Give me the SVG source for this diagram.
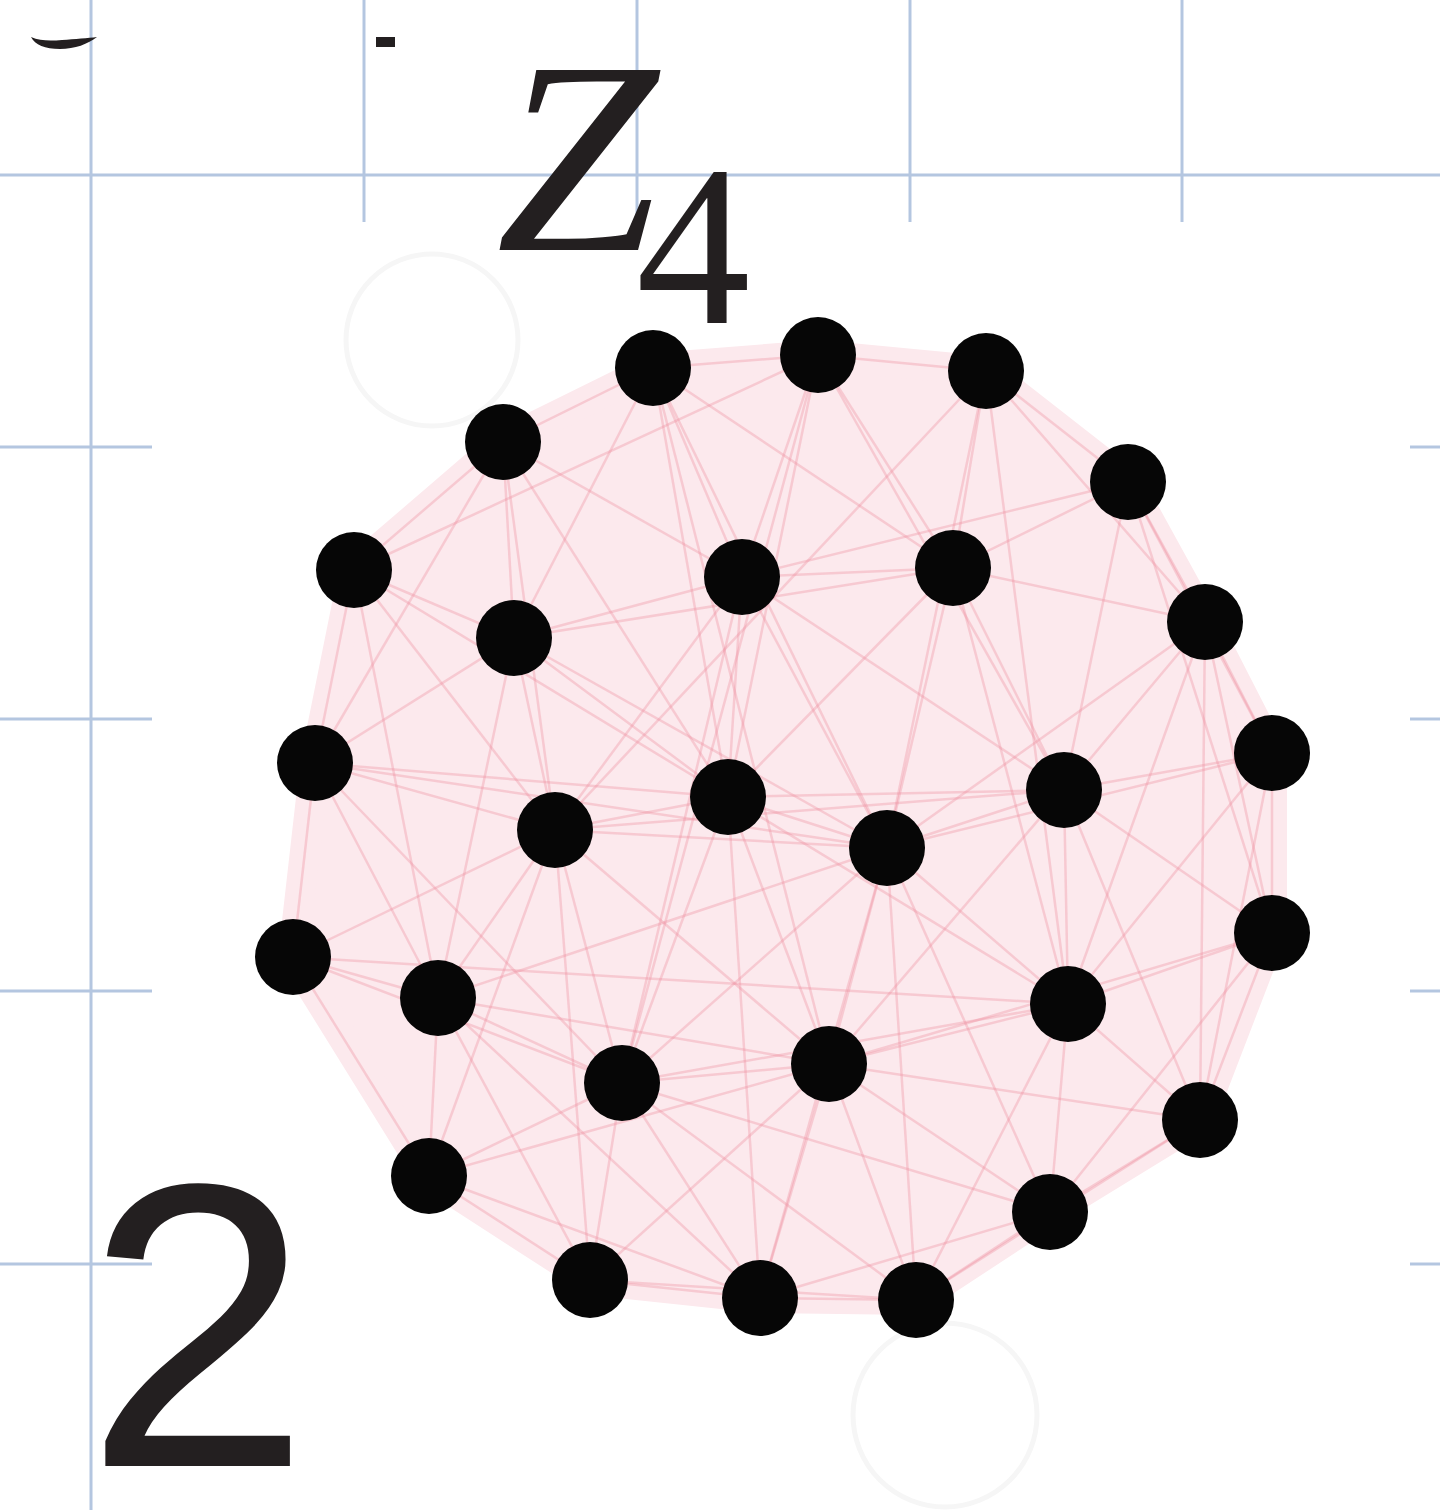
<svg xmlns="http://www.w3.org/2000/svg" width="1440" height="1510" viewBox="0 0 1440 1510">
<style>
.grid{stroke:#b4c6e0;stroke-width:3;fill:none}
.edge{stroke:#ee8fa0;stroke-opacity:0.36;stroke-width:2.5}
.node{fill:#060606}
.ghost{fill:none;stroke:#f6f6f6;stroke-width:5}
.ink{fill:#231f20}
</style>
<rect x="0" y="0" width="1440" height="1510" fill="#ffffff"/>
<g id="grid">
<line class="grid" x1="91" y1="0" x2="91" y2="1510"/>
<line class="grid" x1="364" y1="0" x2="364" y2="222"/>
<line class="grid" x1="637" y1="0" x2="637" y2="222"/>
<line class="grid" x1="910" y1="0" x2="910" y2="222"/>
<line class="grid" x1="1182" y1="0" x2="1182" y2="222"/>
<line class="grid" x1="0" y1="175" x2="1440" y2="175"/>
<line class="grid" x1="0" y1="447" x2="152" y2="447"/>
<line class="grid" x1="0" y1="719" x2="152" y2="719"/>
<line class="grid" x1="0" y1="991" x2="152" y2="991"/>
<line class="grid" x1="0" y1="1264" x2="152" y2="1264"/>
<line class="grid" x1="1410" y1="447" x2="1440" y2="447"/>
<line class="grid" x1="1410" y1="719" x2="1440" y2="719"/>
<line class="grid" x1="1410" y1="991" x2="1440" y2="991"/>
<line class="grid" x1="1410" y1="1264" x2="1440" y2="1264"/>
</g>
<rect x="152" y="222" width="1258" height="1288" fill="#ffffff"/>
<g id="ghosts">
<circle class="ghost" cx="432" cy="340" r="86"/>
<circle class="ghost" cx="945" cy="1415" r="92"/>
</g>
<polygon points="503,442 653,368 818,355 986,371 1128,482 1205,622 1272,753 1272,933 1200,1120 1050,1212 916,1300 760,1298 590,1280 429,1176 293,957 315,763 354,570" fill="#fce9ed" stroke="#fce9ed" stroke-width="30" stroke-linejoin="round"/>
<g id="connectors">
<line class="edge" x1="653" y1="368" x2="818" y2="355"/>
<line class="edge" x1="653" y1="368" x2="503" y2="442"/>
<line class="edge" x1="653" y1="368" x2="742" y2="577"/>
<line class="edge" x1="653" y1="368" x2="514" y2="638"/>
<line class="edge" x1="653" y1="368" x2="728" y2="797"/>
<line class="edge" x1="653" y1="368" x2="887" y2="848"/>
<line class="edge" x1="653" y1="368" x2="829" y2="1064"/>
<line class="edge" x1="653" y1="368" x2="953" y2="568"/>
<line class="edge" x1="818" y1="355" x2="986" y2="371"/>
<line class="edge" x1="818" y1="355" x2="354" y2="570"/>
<line class="edge" x1="818" y1="355" x2="742" y2="577"/>
<line class="edge" x1="818" y1="355" x2="953" y2="568"/>
<line class="edge" x1="818" y1="355" x2="728" y2="797"/>
<line class="edge" x1="818" y1="355" x2="1064" y2="790"/>
<line class="edge" x1="818" y1="355" x2="622" y2="1083"/>
<line class="edge" x1="986" y1="371" x2="1128" y2="482"/>
<line class="edge" x1="986" y1="371" x2="953" y2="568"/>
<line class="edge" x1="986" y1="371" x2="1205" y2="622"/>
<line class="edge" x1="986" y1="371" x2="887" y2="848"/>
<line class="edge" x1="986" y1="371" x2="555" y2="830"/>
<line class="edge" x1="986" y1="371" x2="1068" y2="1004"/>
<line class="edge" x1="503" y1="442" x2="354" y2="570"/>
<line class="edge" x1="503" y1="442" x2="514" y2="638"/>
<line class="edge" x1="503" y1="442" x2="742" y2="577"/>
<line class="edge" x1="503" y1="442" x2="555" y2="830"/>
<line class="edge" x1="503" y1="442" x2="728" y2="797"/>
<line class="edge" x1="503" y1="442" x2="315" y2="763"/>
<line class="edge" x1="1128" y1="482" x2="953" y2="568"/>
<line class="edge" x1="1128" y1="482" x2="1205" y2="622"/>
<line class="edge" x1="1128" y1="482" x2="1064" y2="790"/>
<line class="edge" x1="1128" y1="482" x2="1272" y2="753"/>
<line class="edge" x1="1128" y1="482" x2="742" y2="577"/>
<line class="edge" x1="1128" y1="482" x2="1272" y2="933"/>
<line class="edge" x1="354" y1="570" x2="514" y2="638"/>
<line class="edge" x1="354" y1="570" x2="315" y2="763"/>
<line class="edge" x1="354" y1="570" x2="555" y2="830"/>
<line class="edge" x1="354" y1="570" x2="438" y2="998"/>
<line class="edge" x1="354" y1="570" x2="728" y2="797"/>
<line class="edge" x1="742" y1="577" x2="953" y2="568"/>
<line class="edge" x1="742" y1="577" x2="514" y2="638"/>
<line class="edge" x1="742" y1="577" x2="728" y2="797"/>
<line class="edge" x1="742" y1="577" x2="1064" y2="790"/>
<line class="edge" x1="742" y1="577" x2="887" y2="848"/>
<line class="edge" x1="742" y1="577" x2="555" y2="830"/>
<line class="edge" x1="742" y1="577" x2="622" y2="1083"/>
<line class="edge" x1="953" y1="568" x2="1205" y2="622"/>
<line class="edge" x1="953" y1="568" x2="1064" y2="790"/>
<line class="edge" x1="953" y1="568" x2="887" y2="848"/>
<line class="edge" x1="953" y1="568" x2="728" y2="797"/>
<line class="edge" x1="953" y1="568" x2="1068" y2="1004"/>
<line class="edge" x1="953" y1="568" x2="514" y2="638"/>
<line class="edge" x1="514" y1="638" x2="315" y2="763"/>
<line class="edge" x1="514" y1="638" x2="555" y2="830"/>
<line class="edge" x1="514" y1="638" x2="728" y2="797"/>
<line class="edge" x1="514" y1="638" x2="887" y2="848"/>
<line class="edge" x1="514" y1="638" x2="438" y2="998"/>
<line class="edge" x1="1205" y1="622" x2="1272" y2="753"/>
<line class="edge" x1="1205" y1="622" x2="1064" y2="790"/>
<line class="edge" x1="1205" y1="622" x2="1272" y2="933"/>
<line class="edge" x1="1205" y1="622" x2="887" y2="848"/>
<line class="edge" x1="1205" y1="622" x2="1068" y2="1004"/>
<line class="edge" x1="1205" y1="622" x2="1200" y2="1120"/>
<line class="edge" x1="315" y1="763" x2="555" y2="830"/>
<line class="edge" x1="315" y1="763" x2="293" y2="957"/>
<line class="edge" x1="315" y1="763" x2="438" y2="998"/>
<line class="edge" x1="315" y1="763" x2="728" y2="797"/>
<line class="edge" x1="315" y1="763" x2="622" y2="1083"/>
<line class="edge" x1="315" y1="763" x2="887" y2="848"/>
<line class="edge" x1="728" y1="797" x2="555" y2="830"/>
<line class="edge" x1="728" y1="797" x2="887" y2="848"/>
<line class="edge" x1="728" y1="797" x2="829" y2="1064"/>
<line class="edge" x1="728" y1="797" x2="622" y2="1083"/>
<line class="edge" x1="728" y1="797" x2="1064" y2="790"/>
<line class="edge" x1="728" y1="797" x2="1068" y2="1004"/>
<line class="edge" x1="728" y1="797" x2="760" y2="1298"/>
<line class="edge" x1="555" y1="830" x2="438" y2="998"/>
<line class="edge" x1="555" y1="830" x2="622" y2="1083"/>
<line class="edge" x1="555" y1="830" x2="887" y2="848"/>
<line class="edge" x1="555" y1="830" x2="829" y2="1064"/>
<line class="edge" x1="555" y1="830" x2="429" y2="1176"/>
<line class="edge" x1="555" y1="830" x2="590" y2="1280"/>
<line class="edge" x1="1064" y1="790" x2="1272" y2="753"/>
<line class="edge" x1="1064" y1="790" x2="887" y2="848"/>
<line class="edge" x1="1064" y1="790" x2="1068" y2="1004"/>
<line class="edge" x1="1064" y1="790" x2="1272" y2="933"/>
<line class="edge" x1="1064" y1="790" x2="829" y2="1064"/>
<line class="edge" x1="1064" y1="790" x2="1200" y2="1120"/>
<line class="edge" x1="1064" y1="790" x2="555" y2="830"/>
<line class="edge" x1="1272" y1="753" x2="1272" y2="933"/>
<line class="edge" x1="1272" y1="753" x2="1068" y2="1004"/>
<line class="edge" x1="1272" y1="753" x2="1200" y2="1120"/>
<line class="edge" x1="1272" y1="753" x2="887" y2="848"/>
<line class="edge" x1="887" y1="848" x2="1068" y2="1004"/>
<line class="edge" x1="887" y1="848" x2="829" y2="1064"/>
<line class="edge" x1="887" y1="848" x2="622" y2="1083"/>
<line class="edge" x1="887" y1="848" x2="1050" y2="1212"/>
<line class="edge" x1="887" y1="848" x2="916" y2="1300"/>
<line class="edge" x1="887" y1="848" x2="760" y2="1298"/>
<line class="edge" x1="887" y1="848" x2="438" y2="998"/>
<line class="edge" x1="1272" y1="933" x2="1068" y2="1004"/>
<line class="edge" x1="1272" y1="933" x2="1200" y2="1120"/>
<line class="edge" x1="1272" y1="933" x2="1050" y2="1212"/>
<line class="edge" x1="1272" y1="933" x2="829" y2="1064"/>
<line class="edge" x1="293" y1="957" x2="438" y2="998"/>
<line class="edge" x1="293" y1="957" x2="429" y2="1176"/>
<line class="edge" x1="293" y1="957" x2="622" y2="1083"/>
<line class="edge" x1="293" y1="957" x2="555" y2="830"/>
<line class="edge" x1="293" y1="957" x2="1068" y2="1004"/>
<line class="edge" x1="438" y1="998" x2="622" y2="1083"/>
<line class="edge" x1="438" y1="998" x2="429" y2="1176"/>
<line class="edge" x1="438" y1="998" x2="590" y2="1280"/>
<line class="edge" x1="438" y1="998" x2="829" y2="1064"/>
<line class="edge" x1="438" y1="998" x2="760" y2="1298"/>
<line class="edge" x1="1068" y1="1004" x2="829" y2="1064"/>
<line class="edge" x1="1068" y1="1004" x2="1200" y2="1120"/>
<line class="edge" x1="1068" y1="1004" x2="1050" y2="1212"/>
<line class="edge" x1="1068" y1="1004" x2="916" y2="1300"/>
<line class="edge" x1="1068" y1="1004" x2="622" y2="1083"/>
<line class="edge" x1="829" y1="1064" x2="622" y2="1083"/>
<line class="edge" x1="829" y1="1064" x2="1050" y2="1212"/>
<line class="edge" x1="829" y1="1064" x2="760" y2="1298"/>
<line class="edge" x1="829" y1="1064" x2="916" y2="1300"/>
<line class="edge" x1="829" y1="1064" x2="590" y2="1280"/>
<line class="edge" x1="829" y1="1064" x2="429" y2="1176"/>
<line class="edge" x1="622" y1="1083" x2="429" y2="1176"/>
<line class="edge" x1="622" y1="1083" x2="590" y2="1280"/>
<line class="edge" x1="622" y1="1083" x2="760" y2="1298"/>
<line class="edge" x1="622" y1="1083" x2="916" y2="1300"/>
<line class="edge" x1="622" y1="1083" x2="1050" y2="1212"/>
<line class="edge" x1="1200" y1="1120" x2="1050" y2="1212"/>
<line class="edge" x1="1200" y1="1120" x2="916" y2="1300"/>
<line class="edge" x1="1200" y1="1120" x2="829" y2="1064"/>
<line class="edge" x1="429" y1="1176" x2="590" y2="1280"/>
<line class="edge" x1="429" y1="1176" x2="760" y2="1298"/>
<line class="edge" x1="1050" y1="1212" x2="916" y2="1300"/>
<line class="edge" x1="1050" y1="1212" x2="760" y2="1298"/>
<line class="edge" x1="590" y1="1280" x2="760" y2="1298"/>
<line class="edge" x1="590" y1="1280" x2="916" y2="1300"/>
<line class="edge" x1="760" y1="1298" x2="916" y2="1300"/>
</g>
<g id="nodes">
<g id="n1"><circle class="node" cx="653" cy="368" r="38"/></g>
<g id="n2"><circle class="node" cx="818" cy="355" r="38"/></g>
<g id="n3"><circle class="node" cx="986" cy="371" r="38"/></g>
<g id="n4"><circle class="node" cx="503" cy="442" r="38"/></g>
<g id="n5"><circle class="node" cx="1128" cy="482" r="38"/></g>
<g id="n6"><circle class="node" cx="354" cy="570" r="38"/></g>
<g id="n7"><circle class="node" cx="742" cy="577" r="38"/></g>
<g id="n8"><circle class="node" cx="953" cy="568" r="38"/></g>
<g id="n9"><circle class="node" cx="514" cy="638" r="38"/></g>
<g id="n10"><circle class="node" cx="1205" cy="622" r="38"/></g>
<g id="n11"><circle class="node" cx="315" cy="763" r="38"/></g>
<g id="n12"><circle class="node" cx="728" cy="797" r="38"/></g>
<g id="n13"><circle class="node" cx="555" cy="830" r="38"/></g>
<g id="n14"><circle class="node" cx="1064" cy="790" r="38"/></g>
<g id="n15"><circle class="node" cx="1272" cy="753" r="38"/></g>
<g id="n16"><circle class="node" cx="887" cy="848" r="38"/></g>
<g id="n17"><circle class="node" cx="1272" cy="933" r="38"/></g>
<g id="n18"><circle class="node" cx="293" cy="957" r="38"/></g>
<g id="n19"><circle class="node" cx="438" cy="998" r="38"/></g>
<g id="n20"><circle class="node" cx="1068" cy="1004" r="38"/></g>
<g id="n21"><circle class="node" cx="829" cy="1064" r="38"/></g>
<g id="n22"><circle class="node" cx="622" cy="1083" r="38"/></g>
<g id="n23"><circle class="node" cx="1200" cy="1120" r="38"/></g>
<g id="n24"><circle class="node" cx="429" cy="1176" r="38"/></g>
<g id="n25"><circle class="node" cx="1050" cy="1212" r="38"/></g>
<g id="n26"><circle class="node" cx="590" cy="1280" r="38"/></g>
<g id="n27"><circle class="node" cx="760" cy="1298" r="38"/></g>
<g id="n28"><circle class="node" cx="916" cy="1300" r="38"/></g>
</g>
<g id="fragments">
<path class="ink" d="M31,37 C40,41 50,41 62,40 C75,39 88,38 97,37 C88,44 75,49 60,49 C45,49 35,45 31,37 Z"/>
<rect class="ink" x="376" y="37" width="19" height="10"/>
</g>
<g id="labels">
<text transform="translate(496 250) scale(1.06 1)" font-family="Liberation Serif, serif" font-style="italic" font-size="275" class="ink">Z</text>
<text x="636" y="323" font-family="Liberation Serif, serif" font-size="229" class="ink">4</text>
<text x="85" y="1466" font-family="Liberation Sans, Arial, sans-serif" font-size="405" class="ink">2</text>
</g>
</svg>
